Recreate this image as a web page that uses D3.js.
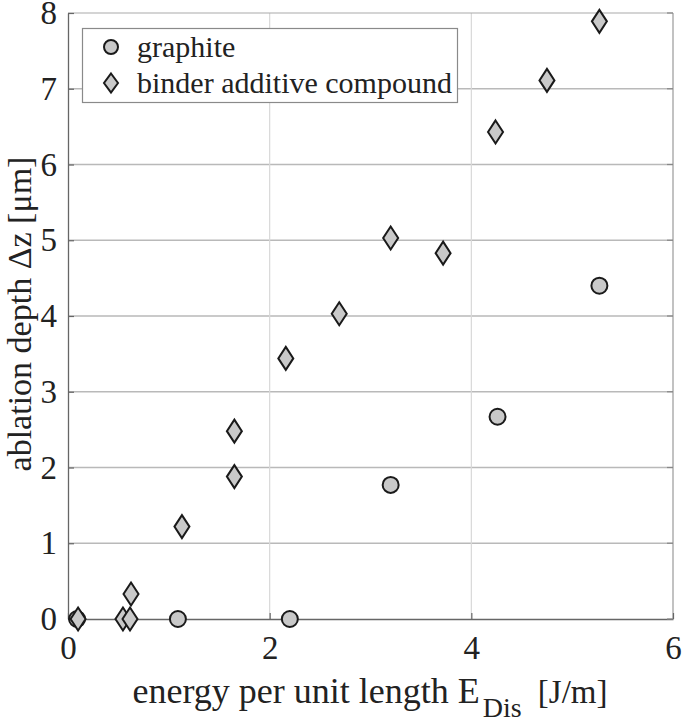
<!DOCTYPE html>
<html>
<head>
<meta charset="utf-8">
<script src="https://cdn.jsdelivr.net/npm/d3@7"></script>
<style>
  html, body { margin: 0; padding: 0; background: #fff; }
  svg { display: block; }
</style>
</head>
<body>
<svg id="chart" width="685" height="724"></svg>
<script>
// ---- data ----
const xTicks = [0, 2, 4, 6];
const yTicks = [0, 1, 2, 3, 4, 5, 6, 7, 8];
const seriesNames = ["graphite", "binder additive compound"];
const graphiteX = [0.09, 1.09, 2.20, 3.20, 4.26, 5.27];
const graphiteY = [0, 0, 0, 1.77, 2.67, 4.40];
const binderX = [0.10, 0.545, 0.615, 0.625, 1.13, 1.65, 1.65, 2.16, 2.69, 3.20, 3.72, 4.24, 4.75, 5.27];
const binderY = [0, 0, 0, 0.33, 1.22, 1.88, 2.48, 3.44, 4.03, 5.03, 4.83, 6.43, 7.11, 7.89];

const FONT = "'Liberation Serif', serif";
const margin = { left: 68, right: 12, top: 13, bottom: 105 };
const W = 685, H = 724;
const svg = d3.select("#chart");

const x = d3.scaleLinear().domain([0, 6]).range([margin.left, W - margin.right]);
const y = d3.scaleLinear().domain([0, 8]).range([H - margin.bottom, margin.top]);

const x0 = x.range()[0], x1 = x.range()[1];
const y0 = y.range()[0], y1 = y.range()[1];

function styleText(sel, size) {
  return sel.attr("font-family", FONT).attr("font-size", size)
    .style("font-family", FONT).style("font-size", size + "px").attr("fill", "#222");
}

// grid
const grid = svg.append("g");
grid.selectAll("line.h").data(yTicks.filter(d => d > 0 && d < 8)).join("line")
  .attr("x1", x0).attr("x2", x1)
  .attr("y1", d => y(d)).attr("y2", d => y(d))
  .attr("stroke", "#b9b9b9").attr("stroke-width", 1.4);
grid.selectAll("line.v").data(xTicks.filter(d => d > 0 && d < 6)).join("line")
  .attr("y1", y0).attr("y2", y1)
  .attr("x1", d => x(d)).attr("x2", d => x(d))
  .attr("stroke", "#d8d8d8").attr("stroke-width", 1.2);

// box (top / right lighter)
svg.append("line").attr("x1", x0).attr("x2", x1).attr("y1", y1).attr("y2", y1)
  .attr("stroke", "#aaa").attr("stroke-width", 1.2);
svg.append("line").attr("x1", x1).attr("x2", x1).attr("y1", y1).attr("y2", y0)
  .attr("stroke", "#999").attr("stroke-width", 1.2);

// axes
const fontTick = 33;
const xAxis = svg.append("g").attr("transform", `translate(0,${y0})`)
  .call(d3.axisBottom(x).tickValues(xTicks).tickSizeInner(-6).tickSizeOuter(0).tickPadding(16.5).tickFormat(d3.format("d")));
const yAxis = svg.append("g").attr("transform", `translate(${x0},0)`)
  .call(d3.axisLeft(y).tickValues(yTicks).tickSizeInner(-6).tickSizeOuter(0).tickPadding(11).tickFormat(d3.format("d")));
[xAxis, yAxis].forEach(a => {
  a.attr("font-family", null).attr("font-size", null);
  a.select(".domain").attr("stroke", "#666").attr("stroke-width", 1.3);
  a.selectAll(".tick line").attr("stroke", "#666").attr("stroke-width", 1.2);
  styleText(a.selectAll(".tick text"), fontTick);
});
// right-side ticks
svg.append("g").selectAll("line").data(yTicks).join("line")
  .attr("x1", x1).attr("x2", x1 - 6).attr("y1", d => y(d)).attr("y2", d => y(d))
  .attr("stroke", "#888").attr("stroke-width", 1.2);

// markers
const fill = "#c9c9c9", stroke = "#1a1a1a";
const diamond = (cx, cy, hw, hh) => `M${cx},${cy - hh}L${cx + hw},${cy}L${cx},${cy + hh}L${cx - hw},${cy}Z`;

svg.append("g").selectAll("circle").data(graphiteX.map((v, i) => [v, graphiteY[i]])).join("circle")
  .attr("cx", d => x(d[0])).attr("cy", d => y(d[1])).attr("r", 8)
  .attr("fill", fill).attr("stroke", stroke).attr("stroke-width", 2);

svg.append("g").selectAll("path").data(binderX.map((v, i) => [v, binderY[i]])).join("path")
  .attr("d", d => diamond(x(d[0]), y(d[1]), 7.5, 11.5))
  .attr("fill", fill).attr("stroke", stroke).attr("stroke-width", 2).attr("stroke-linejoin", "miter");

// legend
const lg = svg.append("g");
lg.append("rect").attr("x", 82.5).attr("y", 28.5).attr("width", 375).attr("height", 74)
  .attr("fill", "#fff").attr("stroke", "#8a8a8a").attr("stroke-width", 1.2);
lg.append("circle").attr("cx", 111).attr("cy", 47).attr("r", 7)
  .attr("fill", fill).attr("stroke", stroke).attr("stroke-width", 2);
lg.append("path").attr("d", diamond(111, 83, 7, 9.5))
  .attr("fill", fill).attr("stroke", stroke).attr("stroke-width", 2);
styleText(lg.append("text").attr("x", 137).attr("y", 57), 30).text(seriesNames[0]);
styleText(lg.append("text").attr("x", 137).attr("y", 93), 30).text(seriesNames[1]);

// axis labels
const xl = styleText(svg.append("text").attr("x", 370).attr("y", 703)
  .attr("text-anchor", "middle"), 36);
xl.append("tspan").text("energy per unit length E");
xl.append("tspan").attr("dx", 3).attr("dy", 14).style("font-size", "28px").text("Dis");
xl.append("tspan").attr("dx", 8).attr("dy", -14).style("font-size", "33px").text(" [J/m]");

styleText(svg.append("text").attr("transform", `translate(31,${(y0 + y1) / 2 - 2}) rotate(-90)`)
  .attr("text-anchor", "middle"), 34)
  .text("ablation depth Δz [μm]");
</script>
</body>
</html>
